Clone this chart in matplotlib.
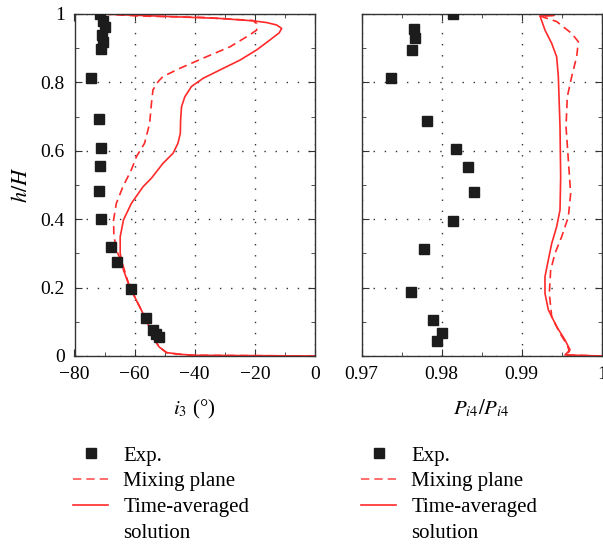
import matplotlib
matplotlib.use("Agg")
import matplotlib.pyplot as plt
from matplotlib.ticker import MultipleLocator, FixedLocator
from matplotlib.lines import Line2D

plt.rcParams['font.family'] = ['Liberation Serif', 'DejaVu Serif']
plt.rcParams['mathtext.fontset'] = 'stix'

RED = '#ff2a2a'
DARK = '#1c1c1c'

# ---- Left panel: incidence angle i3 ----
exp_i3_x = [-71.4, -70.6, -69.7, -70.8, -70.6, -71.1, -74.4, -72.0, -71.1, -71.4,
            -72.0, -71.1, -67.8, -65.8, -61.1, -56.1, -53.8, -52.8, -52.0]
exp_i3_y = [1.000, 0.980, 0.961, 0.939, 0.919, 0.897, 0.814, 0.692, 0.609, 0.556,
            0.482, 0.400, 0.319, 0.275, 0.195, 0.112, 0.075, 0.063, 0.055]

ta_i3_x = [0.0, -40.0, -45.0, -49.4, -51.9, -53.9, -56.1, -58.9, -61.7, -63.7, -64.8,
           -64.8, -63.7, -61.1, -57.2, -54.4, -50.6, -47.2, -45.6, -44.8, -44.7,
           -44.4, -43.3, -41.1, -37.2, -31.7, -25.0, -19.4, -15.0, -11.9, -11.1,
           -12.8, -16.1, -20.6, -31.7, -61.7, -70.6]
ta_i3_y = [0.000, 0.002, 0.005, 0.010, 0.027, 0.056, 0.105, 0.154, 0.203, 0.251, 0.300,
           0.349, 0.398, 0.446, 0.495, 0.520, 0.563, 0.593, 0.622, 0.651, 0.690,
           0.729, 0.758, 0.788, 0.812, 0.836, 0.865, 0.895, 0.924, 0.945, 0.958,
           0.968, 0.975, 0.980, 0.987, 0.997, 1.000]

mp_i3_x = [0.0, -40.0, -45.0, -49.4, -51.9, -53.9, -56.1, -58.9, -61.7, -64.1, -65.6,
           -66.9, -67.0, -66.1, -63.9, -61.1, -59.4, -56.7, -55.0, -54.4, -53.9,
           -52.2, -50.6, -45.0, -36.1, -28.3, -21.7, -19.4, -19.4, -20.6, -37.2,
           -58.3, -64.4, -70.6]
mp_i3_y = [0.000, 0.002, 0.005, 0.010, 0.027, 0.056, 0.105, 0.154, 0.203, 0.271, 0.300,
           0.349, 0.398, 0.446, 0.495, 0.544, 0.583, 0.622, 0.680, 0.739, 0.778,
           0.802, 0.817, 0.841, 0.875, 0.904, 0.939, 0.953, 0.972, 0.981, 0.990,
           0.994, 0.997, 1.000]

# ---- Right panel: total pressure ratio ----
exp_p_x = [0.98138, 0.97654, 0.97666, 0.97629, 0.97362, 0.97812, 0.98175, 0.98329,
           0.98400, 0.98138, 0.97779, 0.97612, 0.97887, 0.98004, 0.97937]
exp_p_y = [1.000, 0.956, 0.929, 0.895, 0.814, 0.688, 0.605, 0.553,
           0.480, 0.395, 0.313, 0.186, 0.105, 0.066, 0.044]

ta_p_x = [1.0, 0.99541, 0.99604, 0.99541, 0.99437, 0.99333, 0.99291, 0.99291, 0.99333,
          0.99375, 0.99437, 0.99479, 0.99487, 0.99479, 0.99458, 0.99437, 0.99375,
          0.99291, 0.99229, 0.99404]
ta_p_y = [0.000, 0.003, 0.018, 0.047, 0.086, 0.135, 0.183, 0.232, 0.281,
          0.329, 0.378, 0.427, 0.524, 0.670, 0.817, 0.875, 0.914,
          0.953, 0.994, 0.996]

mp_p_x = [1.0, 0.99541, 0.99595, 0.99570, 0.99479, 0.99375, 0.99345, 0.99362, 0.99416,
          0.99500, 0.99583, 0.99612, 0.99583, 0.99554, 0.99570, 0.99625, 0.99687,
          0.99708, 0.99625, 0.99437, 0.99229, 0.99404]
mp_p_y = [0.000, 0.003, 0.013, 0.032, 0.066, 0.115, 0.183, 0.251, 0.300,
          0.349, 0.407, 0.475, 0.573, 0.670, 0.758, 0.817, 0.875,
          0.919, 0.943, 0.978, 0.994, 0.996]

W, H = 603, 544
fig = plt.figure(figsize=(W / 100, H / 100), dpi=100)
axL = fig.add_axes([74.5 / W, 1 - 356 / H, 240.5 / W, 342 / H])
axR = fig.add_axes([361.7 / W, 1 - 356 / H, 240.0 / W, 342 / H])

grid_style = dict(color='#333333', linestyle=(0, (1, 7)), linewidth=1.0)

for ax in (axL, axR):
    for s in ax.spines.values():
        s.set_color('#333333')
        s.set_linewidth(1.0)
    ax.tick_params(which='both', direction='in', top=True, right=True,
                   colors='#333333', labelcolor='black', labelsize=14)
    ax.tick_params(which='major', length=5, pad=7)
    ax.tick_params(which='minor', length=3)
    ax.set_ylim(0, 1)
    ax.yaxis.set_major_locator(MultipleLocator(0.2))
    ax.yaxis.set_minor_locator(MultipleLocator(0.1))
    ax.grid(True, which='major', **grid_style)

DASH = (0, (5, 3))

# Left
axL.plot(ta_i3_x, ta_i3_y, color=RED, lw=1.2, zorder=2)
axL.plot(mp_i3_x, mp_i3_y, color=RED, lw=1.2, linestyle=DASH, zorder=2)
axL.plot(exp_i3_x, exp_i3_y, linestyle='none', marker='s', markersize=7.5,
         color=DARK, zorder=3)
axL.set_xlim(-80, 0)
axL.set_xticks([-80, -60, -40, -20, 0])
axL.set_xticklabels(['\u221280', '\u221260', '\u221240', '\u221220', '0'])
axL.xaxis.set_minor_locator(MultipleLocator(10))
axL.set_yticks([0, 0.2, 0.4, 0.6, 0.8, 1.0])
axL.set_yticklabels(['0', '0.2', '0.4', '0.6', '0.8', '1'])
axL.set_xlabel(r'$i_3$ (°)', fontsize=15, labelpad=11)
axL.set_ylabel(r'$h/H$', fontsize=16, labelpad=6)

# Right
axR.plot(ta_p_x, ta_p_y, color=RED, lw=1.2, zorder=2)
axR.plot(mp_p_x, mp_p_y, color=RED, lw=1.2, linestyle=DASH, zorder=2)
axR.plot(exp_p_x, exp_p_y, linestyle='none', marker='s', markersize=7.5,
         color=DARK, zorder=3)
axR.set_xlim(0.97, 1.0)
axR.set_xticks([0.97, 0.98, 0.99, 1.0])
axR.set_xticklabels(['0.97', '0.98', '0.99', '1'])
axR.xaxis.set_minor_locator(FixedLocator([0.975, 0.985, 0.995]))
axR.set_yticks([0, 0.2, 0.4, 0.6, 0.8, 1.0])
axR.set_yticklabels([])
axR.set_xlabel(r'$P_{i4}/P_{i4}$', fontsize=15, labelpad=11)

legend_labels = ['Exp.', 'Mixing plane', 'Time-averaged', 'solution']

def make_legend(x_px):
    handles = [
        Line2D([], [], linestyle='none', marker='s', markersize=7.5, color=DARK),
        Line2D([], [], color=RED, lw=1.2, linestyle=DASH, alpha=0.8),
        Line2D([], [], color=RED, lw=1.2),
        Line2D([], [], linestyle='none', marker=None),
    ]
    fig.legend(handles, legend_labels, loc='upper left',
               bbox_to_anchor=(x_px / W, 1 - 446 / H),
               frameon=False, fontsize=15, handlelength=1.7, handletextpad=0.72,
               labelspacing=0.3, borderaxespad=0, borderpad=0)

make_legend(73)
make_legend(361)

fig.savefig('out.png', dpi=100)
